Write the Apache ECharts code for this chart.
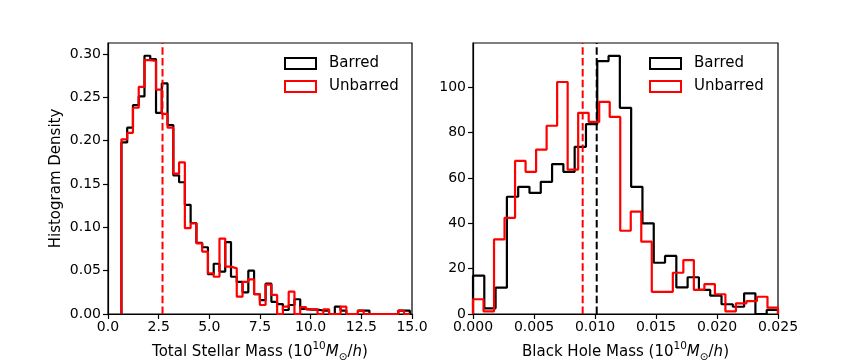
<!DOCTYPE html>
<html>
<head>
<meta charset="utf-8">
<script src="https://cdn.jsdelivr.net/npm/echarts@6/dist/echarts.min.js"></script>
<style>
  html, body { margin: 0; padding: 0; background: #fff; }
  #chart { width: 864px; height: 360px; }
</style>
</head>
<body>
<div id="chart"></div>
<script>
// histogram densities
var stellarStart = 0.662, stellarWidth = 0.2846;
var stellarBarred = [0.198, 0.215, 0.241, 0.251, 0.298, 0.294, 0.232, 0.266, 0.218, 0.160,
  0.152, 0.126, 0.105, 0.082, 0.077, 0.046, 0.058, 0.049, 0.083, 0.043,
  0.037, 0.025, 0.050, 0.023, 0.016, 0.035, 0.014, 0.0115, 0.0046, 0.0104,
  0.017, 0.006, 0.005, 0.005, 0.004, 0.004, 0, 0.0085, 0.004, 0,
  0, 0.004, 0.004, 0, 0, 0, 0, 0, 0.004, 0.004];
var stellarUnbarred = [0.2015, 0.209, 0.238, 0.262, 0.293, 0.292, 0.259, 0.231, 0.215, 0.162,
  0.175, 0.099, 0.1046, 0.0815, 0.072, 0.047, 0.043, 0.087, 0.0546, 0.0527,
  0.020, 0.037, 0.040, 0.023, 0.0104, 0.034, 0.022, 0, 0.0085, 0.0258,
  0, 0.008, 0.0054, 0.0054, 0, 0.0054, 0, 0, 0.0085, 0,
  0, 0.004, 0, 0, 0, 0, 0, 0, 0.004, 0];
var stellarMedian = 2.69;
var stellarYMax = 0.3127;

var bhBarredWidth = 0.025 / 27, bhUnbarredWidth = 0.025 / 29;
var bhBarred = [16.9, 2.5, 11.6, 51.7, 56.1, 53.4, 58.3, 66.1, 62.7, 73.7,
  83.7, 111.5, 113.8, 90.9, 56.1, 40, 22.6, 25.6, 11.7, 16.2,
  10.6, 8.1, 4.3, 3.2, 9.1, 0, 1.8];
var bhUnbarred = [6.5, 1.2, 32.9, 42.4, 67.5, 62.7, 72.5, 83.0, 102.3, 63.7,
  88.7, 84.7, 93.5, 86.9, 36.7, 45.1, 31.9, 9.8, 9.8, 18.2,
  23.8, 10.6, 13.2, 8.7, 1.2, 4.7, 5.7, 7.6, 2.8];
var bhMedianBarred = 0.01014, bhMedianUnbarred = 0.00899;
var bhYMax = 119.5;

var stellarTicks = [0, 0.05, 0.10, 0.15, 0.20, 0.25, 0.30];
var bhTicks = [0, 20, 40, 60, 80, 100];

var FONT = 'DejaVu Sans';

// outline of a step histogram
function stepPoints(start, width, vals) {
  var pts = [[start, 0]];
  vals.forEach(function (v, i) {
    pts.push([start + i * width, v]);
    pts.push([start + (i + 1) * width, v]);
  });
  pts.push([start + vals.length * width, 0]);
  return pts;
}

function hist(name, color, pts, idx) {
  return {
    name: name, type: 'line', data: pts, xAxisIndex: idx, yAxisIndex: idx,
    symbol: 'none', showSymbol: false, z: color === '#ff0000' ? 3 : 2,
    lineStyle: { color: color, width: 2.2 }, itemStyle: { color: color },
    animation: false
  };
}

// dashed vertical median line spanning the panel
function median(id, color, x, yMax, idx) {
  return {
    id: id, name: id, type: 'line', data: [[x, 0], [x, yMax]],
    xAxisIndex: idx, yAxisIndex: idx, z: 4, symbol: 'none', showSymbol: false,
    silent: true, animation: false,
    lineStyle: { color: color, width: 2, type: [7.5, 3.3] }
  };
}

var nameStyle = {
  fontSize: 15, color: '#000', fontFamily: FONT, lineHeight: 22,
  rich: {
    sup: { fontSize: 10.5, lineHeight: 10, verticalAlign: 'top' },
    it: { fontSize: 15, fontStyle: 'italic', lineHeight: 22 },
    sub: { fontSize: 10.5, lineHeight: 15, verticalAlign: 'bottom' }
  }
};

function xAxisOf(idx, min, max, interval, digits, name) {
  return {
    gridIndex: idx, type: 'value', min: min, max: max, interval: interval,
    axisLine: { show: true, lineStyle: { color: '#000', width: 1.2 } },
    axisTick: { show: true, length: 5, lineStyle: { color: '#000', width: 1.2 } },
    splitLine: { show: false },
    axisLabel: { color: '#000', fontSize: 14, fontFamily: FONT, margin: 6,
      formatter: function (v) { return v.toFixed(digits); } },
    name: name, nameLocation: 'middle', nameGap: 27, nameTextStyle: nameStyle
  };
}

function yAxisOf(idx, max, ticks, digits, name) {
  return {
    gridIndex: idx, type: 'value', min: 0, max: max,
    axisLine: { show: true, lineStyle: { color: '#000', width: 1.2 } },
    axisTick: { show: true, length: 5, customValues: ticks, lineStyle: { color: '#000', width: 1.2 } },
    splitLine: { show: false },
    axisLabel: { color: '#000', fontSize: 14, fontFamily: FONT, margin: 7, customValues: ticks,
      formatter: function (v) { return v.toFixed(digits); } },
    name: name, nameLocation: 'middle', nameGap: 44,
    nameTextStyle: { fontSize: 15, color: '#000', fontFamily: FONT }
  };
}

function legendOf(left) {
  return {
    orient: 'vertical', left: left, top: 50, itemWidth: 31, itemHeight: 11, itemGap: 6,
    textStyle: { fontSize: 15, color: '#000', fontFamily: FONT, lineHeight: 17, padding: [0, 0, 0, 8] },
    data: [
      { name: 'Barred', icon: 'rect', itemStyle: { color: 'rgba(0,0,0,0)', borderColor: '#000', borderWidth: 2 } },
      { name: 'Unbarred', icon: 'rect', itemStyle: { color: 'rgba(0,0,0,0)', borderColor: '#ff0000', borderWidth: 2 } }
    ],
    selectedMode: false
  };
}

var chart = echarts.init(document.getElementById('chart'), null, { renderer: 'canvas' });
chart.setOption({
  animation: false,
  backgroundColor: '#fff',
  grid: [
    { left: 108, top: 43, width: 304, height: 271, show: true, borderColor: '#000', borderWidth: 1.2, outerBoundsMode: 'none' },
    { left: 473, top: 43, width: 305, height: 271, show: true, borderColor: '#000', borderWidth: 1.2, outerBoundsMode: 'none' }
  ],
  legend: [legendOf(279), legendOf(644)],
  xAxis: [
    xAxisOf(0, 0, 15, 2.5, 1, 'Total Stellar Mass (10{sup|10}{it|M}{sub|⊙}/{it|h})'),
    xAxisOf(1, 0, 0.025, 0.005, 3, 'Black Hole Mass (10{sup|10}{it|M}{sub|⊙}/{it|h})')
  ],
  yAxis: [
    yAxisOf(0, stellarYMax, stellarTicks, 2, 'Histogram Density'),
    yAxisOf(1, bhYMax, bhTicks, 0, '')
  ],
  series: [
    hist('Barred', '#000000', stepPoints(stellarStart, stellarWidth, stellarBarred), 0),
    hist('Unbarred', '#ff0000', stepPoints(stellarStart, stellarWidth, stellarUnbarred), 0),
    median('medStellar', '#ff0000', stellarMedian, stellarYMax, 0),
    hist('Barred', '#000000', stepPoints(0, bhBarredWidth, bhBarred), 1),
    hist('Unbarred', '#ff0000', stepPoints(0, bhUnbarredWidth, bhUnbarred), 1),
    median('medBhUnbarred', '#ff0000', bhMedianUnbarred, bhYMax, 1),
    median('medBhBarred', '#000000', bhMedianBarred, bhYMax, 1)
  ]
});
</script>
</body>
</html>
